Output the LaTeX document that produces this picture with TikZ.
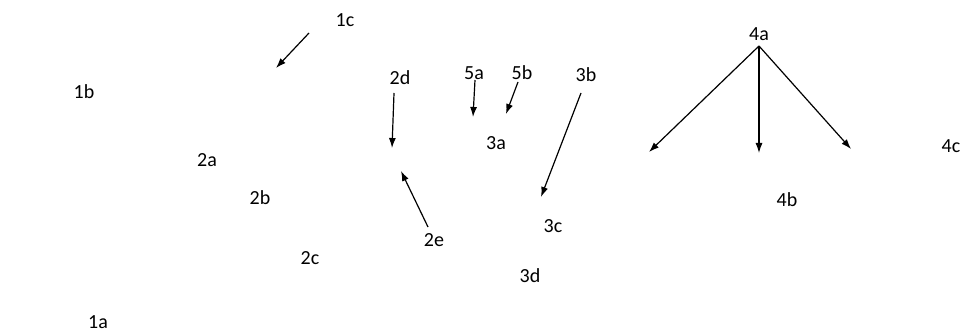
\documentclass[tikz,border=0pt]{standalone}
\usepackage{fontspec}
\setmainfont{Carlito}
\usetikzlibrary{arrows.meta}

\begin{document}
\begin{tikzpicture}[x=0.5pt, y=-0.5pt,
	lbl/.style={font=\fontsize{10}{12}\selectfont, inner sep=1pt},
	arr/.style={line width=0.6pt, -{Latex[length=5pt,width=3.5pt]}}]
	\def\W{963}
	\def\H{331}

	%画布大小
	\useasboundingbox (0,0) rectangle (\W,\H);

	%标签
	\node [lbl] (c1) at (345,20) {1c};
	\node [lbl] (b1) at (84,92) {1b};
	\node [lbl] (a1) at (98,322) {1a};
	\node [lbl] (a2) at (207,160) {2a};
	\node [lbl] (b2) at (260,198) {2b};
	\node [lbl] (c2) at (310,258) {2c};
	\node [lbl] (d2) at (400,78) {2d};
	\node [lbl] (e2) at (434,240) {2e};
	\node [lbl] (a5) at (474,73) {5a};
	\node [lbl] (b5) at (522,73) {5b};
	\node [lbl] (b3) at (586,75) {3b};
	\node [lbl] (a3) at (496,143) {3a};
	\node [lbl] (c3) at (553,226) {3c};
	\node [lbl] (d3) at (530,276) {3d};
	\node [lbl] (a4) at (759,34) {4a};
	\node [lbl] (b4) at (787,200) {4b};
	\node [lbl] (c4) at (951,146) {4c};

	%箭头端点
	\coordinate (P1) at (309,33);
	\coordinate (Q1) at (276,68);
	\coordinate (P2) at (394,93);
	\coordinate (Q2) at (392,148);
	\coordinate (P3) at (428,227);
	\coordinate (Q3) at (401,171);
	\coordinate (P4) at (475,80);
	\coordinate (Q4) at (473,117);
	\coordinate (P5) at (518,82);
	\coordinate (Q5) at (506,114);
	\coordinate (P6) at (581,93);
	\coordinate (Q6) at (541,197);
	\coordinate (T) at (759,46);
	\coordinate (L) at (649,152);
	\coordinate (M) at (759,153);
	\coordinate (R) at (851,149);

	%箭头
	\draw [arr] (P1) -- (Q1);
	\draw [arr] (P2) -- (Q2);
	\draw [arr] (P3) -- (Q3);
	\draw [arr] (P4) -- (Q4);
	\draw [arr] (P5) -- (Q5);
	\draw [arr] (P6) -- (Q6);
	\foreach \p in {L,M,R}
		\draw [arr] (T) -- (\p);

\end{tikzpicture}
\end{document}
